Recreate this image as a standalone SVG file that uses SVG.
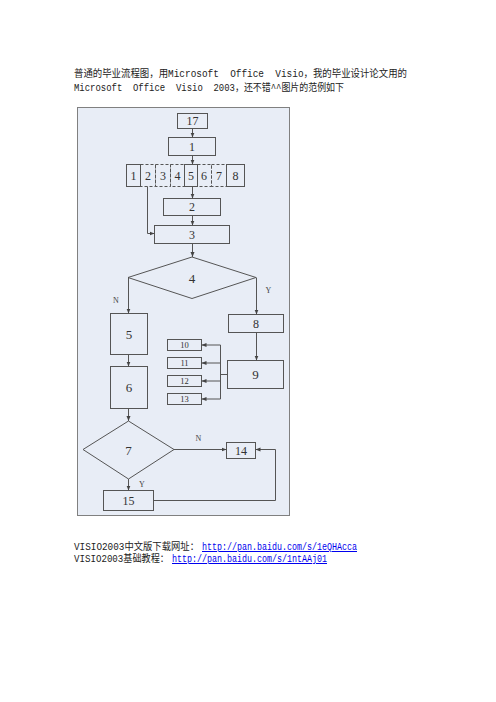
<svg xmlns="http://www.w3.org/2000/svg" width="496" height="702" viewBox="0 0 496 702">
<style>
.t{font-family:"Liberation Mono","Noto Sans CJK SC",monospace;font-size:10px;fill:#222;white-space:pre}
.u{font-family:"Liberation Mono",monospace;font-size:10px;fill:#0000ee;text-decoration:underline}
.n rect,.n polygon{fill:none;stroke:#555;stroke-width:1}
.d rect{stroke-dasharray:3,2}
.lb{font-family:"Liberation Serif","Times New Roman",serif;fill:#333;text-anchor:middle;dominant-baseline:central}
.c path{fill:none;stroke:#555;stroke-width:1}
.s{font-family:"Liberation Serif",serif;font-size:8px;fill:#444;text-anchor:middle}
</style>
<defs>
<marker id="a" markerUnits="userSpaceOnUse" markerWidth="6" markerHeight="6" refX="5" refY="3" orient="auto">
<path d="M0,1 L5,3 L0,5 Z" fill="#444"/>
</marker>
</defs>
<rect width="496" height="702" fill="#fff"/>
<text class="t" xml:space="preserve" x="74" y="77" textLength="333" lengthAdjust="spacingAndGlyphs">普通的毕业流程图，用Microsoft  Office  Visio，我的毕业设计论文用的</text>
<text class="t" xml:space="preserve" x="74" y="91" textLength="270" lengthAdjust="spacingAndGlyphs">Microsoft  Office  Visio  2003，还不错^^图片的范例如下</text>

<rect x="77.5" y="107.5" width="212" height="408" fill="#e8edf6" stroke="#808080" stroke-width="1"/>

<g id="n17" class="n"><rect x="177.5" y="113.5" width="30" height="15"/><text class="lb" x="192.5" y="121" font-size="12">17</text></g>
<g id="n1" class="n"><rect x="168.5" y="137.5" width="47" height="18"/><text class="lb" x="192" y="146.5" font-size="12">1</text></g>
<g id="row" class="n">
<rect x="126.5" y="164.5" width="14" height="22"/>
<g class="d"><rect x="140.5" y="164.5" width="15" height="22"/><rect x="155.5" y="164.5" width="15" height="22"/><rect x="170.5" y="164.5" width="14" height="22"/></g>
<rect x="184.5" y="164.5" width="13" height="22"/>
<g class="d"><rect x="197.5" y="164.5" width="14" height="22"/><rect x="211.5" y="164.5" width="15" height="22"/></g>
<rect x="226.5" y="164.5" width="18" height="22"/>
<text class="lb" x="133.5" y="176" font-size="12">1</text>
<text class="lb" x="148" y="176" font-size="12">2</text>
<text class="lb" x="163" y="176" font-size="12">3</text>
<text class="lb" x="177.5" y="176" font-size="12">4</text>
<text class="lb" x="191" y="176" font-size="12">5</text>
<text class="lb" x="204" y="176" font-size="12">6</text>
<text class="lb" x="219" y="176" font-size="12">7</text>
<text class="lb" x="235.5" y="176" font-size="12">8</text>
</g>
<g id="n2" class="n"><rect x="163.5" y="198.5" width="57" height="17"/><text class="lb" x="192" y="207" font-size="12">2</text></g>
<g id="n3" class="n"><rect x="154.5" y="225.5" width="75" height="18"/><text class="lb" x="192" y="234.5" font-size="12">3</text></g>
<g id="n4" class="n"><polygon points="192,257 256,277.5 192,298.5 128,277.5"/><text class="lb" x="192" y="278" font-size="13">4</text></g>
<g id="n5" class="n"><rect x="110.5" y="313.5" width="37" height="41"/><text class="lb" x="129" y="334" font-size="13">5</text></g>
<g id="n6" class="n"><rect x="110.5" y="366.5" width="37" height="42"/><text class="lb" x="129" y="387.5" font-size="13">6</text></g>
<g id="n7" class="n"><polygon points="128.5,421 174,449.5 128.5,479 83,449.5"/><text class="lb" x="128.5" y="450" font-size="13">7</text></g>
<g id="n8" class="n"><rect x="228.5" y="314.5" width="55" height="18"/><text class="lb" x="256" y="323.5" font-size="12">8</text></g>
<g id="n9" class="n"><rect x="227.5" y="360.5" width="56" height="28"/><text class="lb" x="255.5" y="374.5" font-size="13">9</text></g>
<g id="n10" class="n"><rect x="167.5" y="339.5" width="34" height="11"/><text class="lb" x="184.5" y="345" font-size="8.5">10</text></g>
<g id="n11" class="n"><rect x="167.5" y="357.5" width="34" height="11"/><text class="lb" x="184.5" y="363" font-size="8.5">11</text></g>
<g id="n12" class="n"><rect x="167.5" y="375.5" width="34" height="11"/><text class="lb" x="184.5" y="381" font-size="8.5">12</text></g>
<g id="n13" class="n"><rect x="167.5" y="393.5" width="34" height="11"/><text class="lb" x="184.5" y="399" font-size="8.5">13</text></g>
<g id="n14" class="n"><rect x="226.5" y="442.5" width="29" height="16"/><text class="lb" x="241" y="450.5" font-size="12">14</text></g>
<g id="n15" class="n"><rect x="103.5" y="490.5" width="50" height="20"/><text class="lb" x="128.5" y="500.5" font-size="12">15</text></g>

<g id="connectors" class="c">
<path d="M192.5,128.5 V137.5" marker-end="url(#a)"/>
<path d="M192.5,155.5 V164.5" marker-end="url(#a)"/>
<path d="M192.5,186.5 V198.5" marker-end="url(#a)"/>
<path d="M192.5,215.5 V225.5" marker-end="url(#a)"/>
<path d="M147.5,186.5 V233.5 H154.5" marker-end="url(#a)"/>
<path d="M192.5,243.5 V257" marker-end="url(#a)"/>
<path d="M128.5,277.5 V313.5" marker-end="url(#a)"/>
<path d="M256.5,277.5 V314.5" marker-end="url(#a)"/>
<path d="M256.5,332.5 V360.5" marker-end="url(#a)"/>
<path d="M128.5,354.5 V366.5" marker-end="url(#a)"/>
<path d="M128.5,408.5 V421" marker-end="url(#a)"/>
<path d="M227.5,374.5 H220.5"/>
<path d="M220.5,345 V399"/>
<path d="M220.5,345 H201.5" marker-end="url(#a)"/>
<path d="M220.5,363 H201.5" marker-end="url(#a)"/>
<path d="M220.5,381 H201.5" marker-end="url(#a)"/>
<path d="M220.5,399 H201.5" marker-end="url(#a)"/>
<path d="M174,449.5 H226.5" marker-end="url(#a)"/>
<path d="M128.5,479 V490.5" marker-end="url(#a)"/>
<path d="M153.5,500.5 H275.5 V449.5 H255.5" marker-end="url(#a)"/>
<text class="s" x="116" y="303">N</text>
<text class="s" x="268.5" y="293">Y</text>
<text class="s" x="198.5" y="441">N</text>
<text class="s" x="142" y="487">Y</text>
</g>

<text class="t" x="74" y="550"><tspan textLength="125" lengthAdjust="spacingAndGlyphs">VISIO2003中文版下载网址：</tspan></text>
<text class="u" x="202" y="550" textLength="155" lengthAdjust="spacingAndGlyphs">http://pan.baidu.com/s/1eQHAcca</text>
<text class="t" x="74" y="562"><tspan textLength="95" lengthAdjust="spacingAndGlyphs">VISIO2003基础教程：</tspan></text>
<text class="u" x="172" y="562" textLength="155" lengthAdjust="spacingAndGlyphs">http://pan.baidu.com/s/1ntAAj01</text>
</svg>
